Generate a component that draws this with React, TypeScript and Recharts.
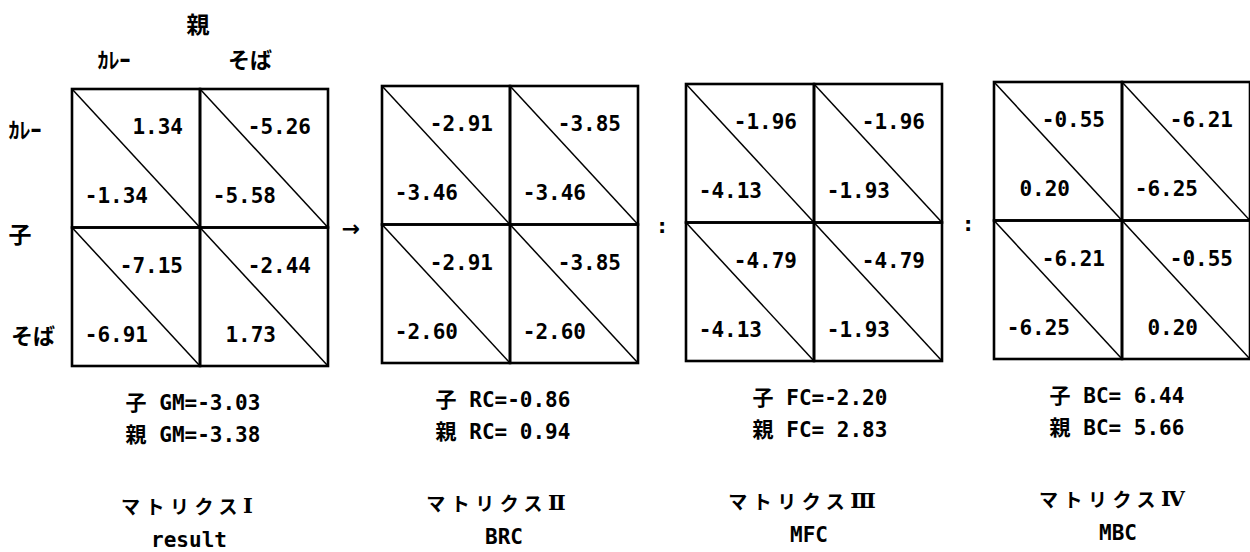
import React from 'react';
import { ScatterChart, Scatter, XAxis, YAxis } from 'recharts';

// ---------- data ----------
const matrixNames = ['マトリクスⅠ', 'マトリクスⅡ', 'マトリクスⅢ', 'マトリクスⅣ'];
const matrixCodes = ['result', 'BRC', 'MFC', 'MBC'];
const coefNames = ['GM', 'RC', 'FC', 'BC'];
const childCoef = [-3.03, -0.86, -2.2, 6.44];
const parentCoef = [-3.38, 0.94, 2.83, 5.66];

// cell order: (カレー,カレー), (カレー,そば), (そば,カレー), (そば,そば)  [row = 子, col = 親]
const upperI = [1.34, -5.26, -7.15, -2.44];
const lowerI = [-1.34, -5.58, -6.91, 1.73];
const upperII = [-2.91, -3.85, -2.91, -3.85];
const lowerII = [-3.46, -3.46, -2.6, -2.6];
const upperIII = [-1.96, -1.96, -4.79, -4.79];
const lowerIII = [-4.13, -1.93, -4.13, -1.93];
const upperIV = [-0.55, -6.21, -6.21, -0.55];
const lowerIV = [0.2, -6.25, -6.25, 0.2];

const categories = ['ｶﾚｰ', 'そば'];
const childLabel = '子';
const parentLabel = '親';
const separators = ['→', ':', ':'];

// ---------- layout ----------
const W = 1250;
const H = 552;
const matLeft = [72, 382, 686, 994];
const matTop = [89, 86, 84, 82];
const cellW = 128;
const cellH = 138.5;
const sumNudge = [-7, -7, 6, -5];
const titleNudge = [-13, -14, -12, -10];
const codeNudge = [-11, -6, -5, -4];

const MONO = "'DejaVu Sans Mono', 'Noto Sans CJK JP', monospace";
const CJK = "'Noto Sans CJK JP', 'DejaVu Sans', sans-serif";
const NUMERAL = "'DejaVu Serif', 'DejaVu Sans', serif";

const uppers = [upperI, upperII, upperIII, upperIV];
const lowers = [lowerI, lowerII, lowerIII, lowerIV];

const fmt = (v: number) => v.toFixed(2);
const fmt5 = (v: number) => v.toFixed(2).padStart(5, ' ');

type Cell = { x: number; y: number; upper: number; lower: number };
const cells: Cell[] = [];
uppers.forEach((u, m) => {
  u.forEach((val, i) => {
    const r = Math.floor(i / 2);
    const c = i % 2;
    cells.push({
      x: matLeft[m] + (c + 0.5) * cellW,
      y: matTop[m] + (r + 0.5) * cellH,
      upper: val,
      lower: lowers[m][i],
    });
  });
});

type Lbl = { x: number; y: number; text: string; kind: string };
const labels: Lbl[] = [];
const cx0 = matLeft[0];
labels.push({ x: 198, y: 23, text: parentLabel, kind: 'head' });
labels.push({ x: cx0 + 0.5 * cellW - 22, y: 58, text: categories[0], kind: 'cat' });
labels.push({ x: cx0 + 1.5 * cellW - 14, y: 58, text: categories[1], kind: 'cat' });
labels.push({ x: 25, y: matTop[0] + 39, text: categories[0], kind: 'cat' });
labels.push({ x: 20, y: matTop[0] + cellH + 5, text: childLabel, kind: 'head' });
labels.push({ x: 33, y: matTop[0] + 245, text: categories[1], kind: 'cat' });
matrixNames.forEach((name, m) => {
  const center = matLeft[m] + cellW;
  const bottom = matTop[m] + 2 * cellH;
  labels.push({
    x: center + sumNudge[m],
    y: bottom + 37,
    text: `${childLabel} ${coefNames[m]}=${fmt5(childCoef[m])}`,
    kind: 'sum',
  });
  labels.push({
    x: center + sumNudge[m],
    y: bottom + 69,
    text: `${parentLabel} ${coefNames[m]}=${fmt5(parentCoef[m])}`,
    kind: 'sum',
  });
  labels.push({ x: center + titleNudge[m], y: bottom + 139, text: name, kind: 'title' });
  labels.push({ x: center + codeNudge[m], y: bottom + 174, text: matrixCodes[m], kind: 'code' });
});
separators.forEach((s, i) => {
  const left = matLeft[i] + 2 * cellW;
  const right = matLeft[i + 1];
  labels.push({
    x: (left + right) / 2 - (i === 0 ? 4 : 0),
    y: (matTop[i] + matTop[i + 1]) / 2 + cellH + 2,
    text: s,
    kind: i === 0 ? 'arrow' : 'colon',
  });
});

const renderCell = (props: any) => {
  const { cx, cy, payload } = props;
  const x0 = cx - cellW / 2;
  const y0 = cy - cellH / 2;
  return (
    <g>
      <rect x={x0} y={y0} width={cellW} height={cellH} fill="none" stroke="#000" strokeWidth={2.6} />
      <line x1={x0} y1={y0} x2={x0 + cellW} y2={y0 + cellH} stroke="#000" strokeWidth={1.5} />
      <text
        x={x0 + cellW - 17}
        y={y0 + 38}
        textAnchor="end"
        dominantBaseline="central"
        fontFamily={MONO}
        fontWeight="bold"
        fontSize={21}
        fill="#000"
      >
        {fmt(payload.upper)}
      </text>
      <text
        x={x0 + 76}
        y={y0 + 107}
        textAnchor="end"
        dominantBaseline="central"
        fontFamily={MONO}
        fontWeight="bold"
        fontSize={21}
        fill="#000"
      >
        {fmt(payload.lower)}
      </text>
    </g>
  );
};

const styleFor = (kind: string) => {
  switch (kind) {
    case 'head':
      return { fontFamily: CJK, fontSize: 23, letterSpacing: 0 };
    case 'cat':
      return { fontFamily: CJK, fontSize: 22, letterSpacing: 0 };
    case 'sum':
      return { fontFamily: MONO, fontSize: 21, letterSpacing: 0 };
    case 'title':
      return { fontFamily: CJK, fontSize: 19, letterSpacing: 5.5 };
    case 'code':
      return { fontFamily: MONO, fontSize: 21, letterSpacing: 0 };
    case 'arrow':
      return { fontFamily: "'DejaVu Sans', sans-serif", fontSize: 22, letterSpacing: 0 };
    default:
      return { fontFamily: "'DejaVu Sans Mono', monospace", fontSize: 22, letterSpacing: 0 };
  }
};

const renderLabel = (props: any) => {
  const { cx, cy, payload } = props;
  const s = styleFor(payload.kind);
  const isTitle = payload.kind === 'title';
  return (
    <text
      x={cx}
      y={cy}
      textAnchor="middle"
      dominantBaseline="central"
      fontFamily={s.fontFamily}
      fontSize={s.fontSize}
      fontWeight="bold"
      letterSpacing={s.letterSpacing}
      style={{ whiteSpace: 'pre' }}
      fill="#000"
    >
      {isTitle ? (
        <>
          <tspan>{payload.text.slice(0, -1)}</tspan>
          <tspan fontFamily={NUMERAL} fontSize={21} letterSpacing={0}>
            {payload.text.slice(-1)}
          </tspan>
        </>
      ) : (
        payload.text
      )}
    </text>
  );
};

export default function App() {
  return (
    <div style={{ position: 'absolute', left: 0, top: 0, width: W, height: H, background: '#fff' }}>
      <ScatterChart width={W} height={H} margin={{ top: 0, right: 0, bottom: 0, left: 0 }}>
        <XAxis type="number" dataKey="x" domain={[0, W]} hide allowDataOverflow />
        <YAxis type="number" dataKey="y" domain={[0, H]} reversed hide allowDataOverflow />
        <Scatter data={cells} dataKey="y" shape={renderCell} isAnimationActive={false} />
        <Scatter data={labels} dataKey="y" shape={renderLabel} isAnimationActive={false} />
      </ScatterChart>
    </div>
  );
}
